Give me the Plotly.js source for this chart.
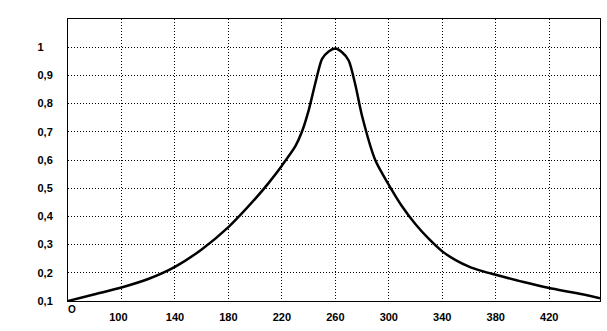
<!DOCTYPE html>
<html>
<head>
<meta charset="utf-8">
<script src="https://cdn.plot.ly/plotly-3.0.1.min.js"></script>
<style>
  html, body { margin: 0; padding: 0; background: #ffffff; }
  #chart { width: 607px; height: 331px; }
</style>
</head>
<body>
<div id="chart"></div>
<script>
// Curve data
const xValues = [60, 80, 100, 120, 140, 160, 180, 200, 210, 220, 230, 235, 240, 245, 250, 255, 260, 265, 270, 275, 280, 290, 300, 310, 320, 330, 340, 350, 360, 370, 380, 400, 420, 440, 458];
const yValues = [0.10, 0.124, 0.148, 0.178, 0.221, 0.283, 0.362, 0.462, 0.518, 0.58, 0.648, 0.70, 0.775, 0.872, 0.958, 0.985, 0.995, 0.982, 0.953, 0.866, 0.756, 0.598, 0.512, 0.435, 0.372, 0.32, 0.276, 0.245, 0.222, 0.206, 0.193, 0.168, 0.146, 0.128, 0.11];

// Axis ticks
const xTickVals = [100, 140, 180, 220, 260, 300, 340, 380, 420];
const xTickText = ["100\u00A0\u00A0", "140", "180", "220", "260", "300", "340", "380", "420"];
const yTickVals = [0.1, 0.2, 0.3, 0.4, 0.5, 0.6, 0.7, 0.8, 0.9, 1.0];
const yTickText = ["0,1", "0,2", "0,3", "0,4", "0,5", "0,6", "0,7", "0,8", "0,9", "1\u00A0\u00A0\u00A0"];
const originLabel = "O";

const tickFont = { family: "Liberation Sans, Arial, sans-serif", size: 11, color: "#000000", weight: "bold" };

const trace = {
  x: xValues,
  y: yValues,
  type: "scatter",
  mode: "lines",
  line: { color: "#000000", width: 2.5, shape: "spline", smoothing: 0.7 },
  hoverinfo: "none"
};

const layout = {
  width: 607,
  height: 331,
  margin: { l: 68, r: 7, t: 19, b: 30, pad: 0 },
  paper_bgcolor: "#ffffff",
  plot_bgcolor: "#ffffff",
  showlegend: false,
  xaxis: {
    range: [60, 458],
    tickmode: "array",
    tickvals: xTickVals,
    ticktext: xTickText,
    ticks: "outside",
    ticklen: 6,
    tickcolor: "rgba(0,0,0,0)",
    tickfont: tickFont,
    showgrid: true,
    gridcolor: "#000000",
    gridwidth: 1,
    griddash: "1px,2px",
    showline: true,
    linecolor: "#000000",
    linewidth: 1,
    mirror: true,
    zeroline: false,
    fixedrange: true
  },
  yaxis: {
    range: [0.1, 1.1],
    tickmode: "array",
    tickvals: yTickVals,
    ticktext: yTickText,
    ticks: "outside",
    ticklen: 12,
    tickcolor: "rgba(0,0,0,0)",
    tickfont: tickFont,
    showgrid: true,
    gridcolor: "#000000",
    gridwidth: 1,
    griddash: "1px,2px",
    showline: true,
    linecolor: "#000000",
    linewidth: 1,
    mirror: true,
    zeroline: false,
    fixedrange: true
  },
  annotations: [
    {
      text: originLabel,
      xref: "x",
      yref: "paper",
      x: 60,
      y: 0,
      xanchor: "left",
      yanchor: "top",
      yshift: -1,
      xshift: -2,
      showarrow: false,
      font: { family: "Liberation Sans, Arial, sans-serif", size: 10, color: "#000000", weight: "bold" }
    }
  ]
};

Plotly.newPlot("chart", [trace], layout, { staticPlot: true, displayModeBar: false });
</script>
</body>
</html>
